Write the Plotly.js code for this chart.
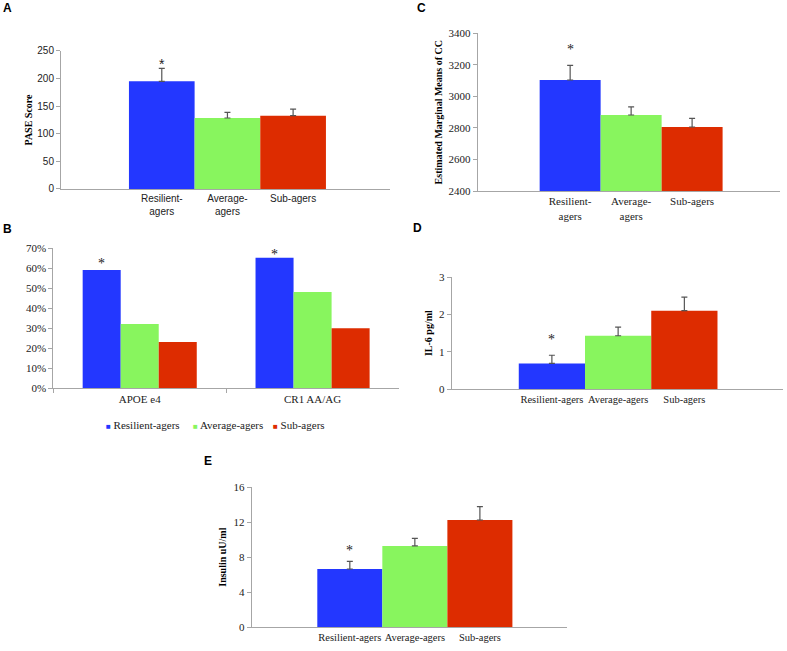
<!DOCTYPE html>
<html>
<head>
<meta charset="utf-8">
<script src="https://cdn.plot.ly/plotly-3.0.1.min.js"></script>
<style>
body{margin:0;background:#fff}
#grafico{width:787px;height:651px}
</style>
</head>
<body>
<div id="grafico"></div>
<script>
// grupos y colores comunes
var grupos = ["Resilient-agers", "Average-agers", "Sub-agers"];
var gruposDosLineas = ["Resilient-<br>agers", "Average-<br>agers", "Sub-agers"];
var colores = ["#2337FF", "#88F55E", "#DD2C00"];

// A - PASE
var paseMedia = [195, 128.6, 132.8];
var paseError = [23.5, 10.2, 12];
var paseEstrella = 232;

// C - CC
var ccMedia = [3104, 2882, 2806];
var ccError = [93, 51, 55];
var ccEstrella = 3315;

// B - genes
var genes = ["APOE e4", "CR1 AA/AG"];
var pctResilient = [0.592, 0.653];
var pctAverage = [0.322, 0.482];
var pctSub = [0.232, 0.30];
var genEstrella = [0.638, 0.683];

// D - IL-6
var il6Media = [0.69, 1.43, 2.10];
var il6Error = [0.22, 0.23, 0.36];
var il6Estrella = 1.40;

// E - insulina
var insulinaMedia = [6.65, 9.28, 12.24];
var insulinaError = [0.88, 0.87, 1.52];
var insulinaEstrella = 9.13;

var sans = "Liberation Sans, Arial, sans-serif";
var serif = "Liberation Serif, Times New Roman, serif";
var gris = "#a6a6a6";

function barrasGrupo(xa, ya, medias, errores){
	return {
		type: "bar",
		x: grupos,
		y: medias,
		xaxis: xa,
		yaxis: ya,
		width: 1,
		marker: {color: colores, line: {width: 0}},
		error_y: {
			type: "data",
			symmetric: false,
			array: errores,
			arrayminus: [0, 0, 0],
			color: "#555",
			thickness: 1.2,
			width: 3
		},
		showlegend: false
	};
}

function ejeX(dominio, ancla, rango, textos, fuente){
	return {
		domain: dominio, anchor: ancla, type: "category", range: rango,
		tickvals: grupos, ticktext: textos, tickangle: 0,
		showline: true, linecolor: gris, linewidth: 1,
		ticks: "", showgrid: false, zeroline: false,
		tickfont: fuente, fixedrange: true
	};
}

function ejeY(dominio, ancla, rango, paso, titulo, fuente, separacion){
	return {
		domain: dominio, anchor: ancla, range: rango, tick0: rango[0], dtick: paso,
		showline: true, linecolor: gris, linewidth: 1,
		ticks: "outside", ticklen: 4, tickcolor: gris,
		showgrid: false, zeroline: false, tickfont: fuente,
		title: {text: "<b>" + titulo + "</b>", font: {family: serif, size: 10, color: "#000"}, standoff: separacion}
	};
}

function estrella(xa, ya, x, y, fam){
	return {xref: xa, yref: ya, x: x, y: y, text: "*", showarrow: false,
		font: {family: fam, size: 14, color: "#222"}, yanchor: "middle", yshift: -3};
}

function letra(txt, px, py){
	return {xref: "paper", yref: "paper", x: px / 787, y: 1 - py / 651, text: "<b>" + txt + "</b>",
		showarrow: false, xanchor: "center", yanchor: "middle",
		font: {family: sans, size: 12, color: "#000"}};
}

// leyenda del panel B: cuadrito de color + nombre
function itemLeyenda(i, px){
	return {xref: "paper", yref: "paper", x: px / 787, y: 1 - 425 / 651,
		text: "<span style=\"color:" + colores[i] + ";font-size:8px\">■</span> " + grupos[i],
		showarrow: false, xanchor: "left", yanchor: "middle",
		font: {family: serif, size: 11, color: "#222"}};
}

function GraficoPanel(){
	var fuenteSans = {family: sans, size: 10, color: "#222"};
	var fuenteSerif = {family: serif, size: 11, color: "#222"};
	var fuenteSerifX = {family: serif, size: 10.5, color: "#222"};

	var data = [
		barrasGrupo("x", "y", paseMedia, paseError),
		barrasGrupo("x2", "y2", ccMedia, ccError),
		{type: "bar", name: grupos[0], x: genes, y: pctResilient, xaxis: "x3", yaxis: "y3", marker: {color: colores[0]}},
		{type: "bar", name: grupos[1], x: genes, y: pctAverage, xaxis: "x3", yaxis: "y3", marker: {color: colores[1]}},
		{type: "bar", name: grupos[2], x: genes, y: pctSub, xaxis: "x3", yaxis: "y3", marker: {color: colores[2]}},
		barrasGrupo("x4", "y4", il6Media, il6Error),
		barrasGrupo("x5", "y5", insulinaMedia, insulinaError)
	];

	var ejeB = {
		domain: [0.0677, 0.507], anchor: "y3", type: "category", range: [-0.5, 1.5],
		showline: true, linecolor: gris, ticks: "outside", tickson: "boundaries", ticklen: 4, tickcolor: gris,
		showgrid: false, zeroline: false, tickfont: fuenteSerif
	};
	var ejeBy = ejeY([0.4035, 0.6186], "x3", [0, 0.7], 0.1, "", fuenteSerif, 0);
	ejeBy.tickformat = ".0%";
	ejeBy.title = {text: ""};

	var layout = {
		width: 787,
		height: 651,
		margin: {l: 0, r: 0, t: 0, b: 0},
		paper_bgcolor: "#fff",
		plot_bgcolor: "rgba(0,0,0,0)",
		barmode: "group",
		bargap: 0.34,
		bargroupgap: 0,
		showlegend: false,
		xaxis: ejeX([0.0775, 0.4955], "y", [-1.535, 3.475], gruposDosLineas, fuenteSans),
		yaxis: ejeY([0.7097, 0.9217], "x", [0, 250], 50, "PASE Score", fuenteSans, 2),
		xaxis2: ejeX([0.607, 0.991], "y2", [-1.516, 3.44], gruposDosLineas, fuenteSerif),
		yaxis2: ejeY([0.7066, 0.9488], "x2", [2400, 3400], 200, "Estimated Marginal Means of CC", fuenteSerif, 3),
		xaxis3: ejeB,
		yaxis3: ejeBy,
		xaxis4: ejeX([0.574, 0.995], "y4", [-1.512, 3.49], grupos, fuenteSerifX),
		yaxis4: ejeY([0.402, 0.5745], "x4", [0, 3], 1, "IL-6 pg/ml", fuenteSerif, 4),
		xaxis5: ejeX([0.3198, 0.7205], "y5", [-1.509, 3.34], grupos, fuenteSerifX),
		yaxis5: ejeY([0.0364, 0.2519], "x5", [0, 16], 4, "Insulin uU/ml", fuenteSerif, 4),
		annotations: [
			estrella("x", "y", grupos[0], paseEstrella, sans),
			estrella("x2", "y2", grupos[0], ccEstrella, serif),
			estrella("x3", "y3", -0.22, genEstrella[0], serif),
			estrella("x3", "y3", 0.78, genEstrella[1], serif),
			estrella("x4", "y4", grupos[0], il6Estrella, serif),
			estrella("x5", "y5", grupos[0], insulinaEstrella, serif),
			itemLeyenda(0, 104),
			itemLeyenda(1, 191),
			itemLeyenda(2, 271),
			letra("A", 7, 8),
			letra("C", 421.7, 8),
			letra("B", 7.5, 229),
			letra("D", 417.5, 228),
			letra("E", 208, 460.5)
		]
	};

	var config = {responsive: false, displayModeBar: false};

	Plotly.newPlot("grafico", data, layout, config);
}

document.addEventListener("DOMContentLoaded", function() {
	GraficoPanel();
});
</script>
</body>
</html>
